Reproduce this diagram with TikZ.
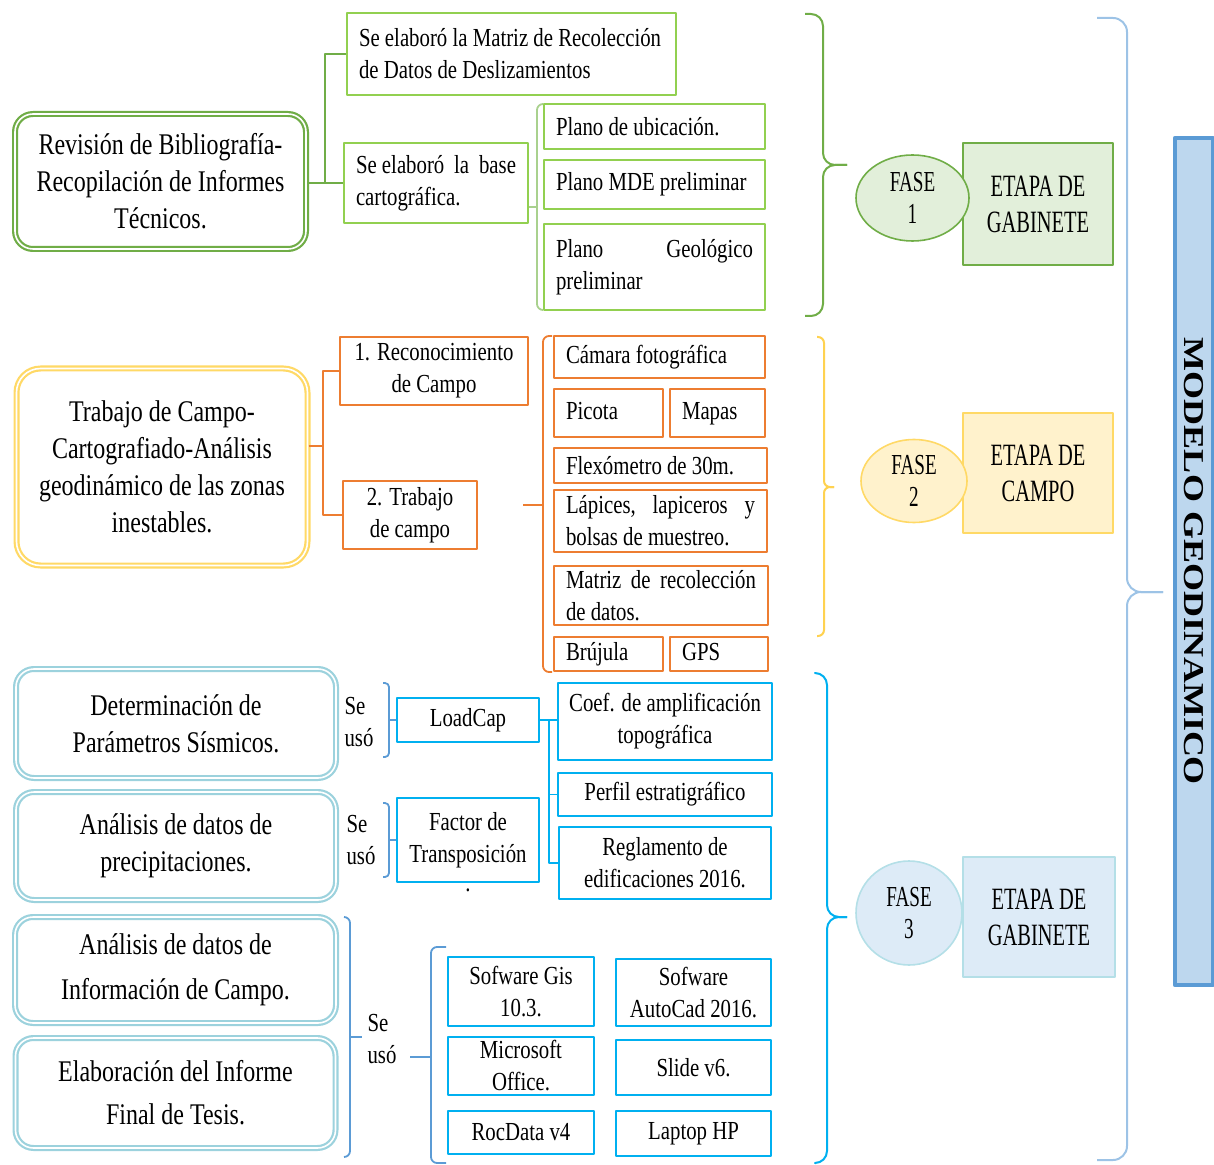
\documentclass[tikz,border=0pt]{standalone}
\usepackage{fontspec}
\setmainfont[FakeStretch=0.8]{Liberation Serif}
\newfontfamily\narrowserif[FakeStretch=0.66]{Liberation Serif}
\newfontfamily\plainserif{Liberation Serif}
\usepackage{graphicx}
\usepackage{tikz}
\usetikzlibrary{positioning,shapes.geometric,calc}
\hyphenpenalty=10000
\definecolor{grnD}{HTML}{70AD47}
\definecolor{grnL}{HTML}{92D050}
\definecolor{grnB}{HTML}{A9D18E}
\definecolor{grnF}{HTML}{E2EFDA}
\definecolor{ylwD}{HTML}{FFD966}
\definecolor{ylwB}{HTML}{FFD250}
\definecolor{ylwF}{HTML}{FFF2CC}
\definecolor{orgD}{HTML}{ED7D31}
\definecolor{tealD}{HTML}{9CD2DD}
\definecolor{cyanD}{HTML}{00B0F0}
\definecolor{bluB}{HTML}{5B9BD5}
\definecolor{bluL}{HTML}{9DC3E6}
\definecolor{bluF}{HTML}{BDD7EE}
\definecolor{phD}{HTML}{B4DFE7}
\definecolor{phF}{HTML}{DDEBF7}

\begin{document}
\begin{tikzpicture}[x=0.5pt,y=-0.5pt,line join=round,
   every node/.style={font=\fontsize{13}{16}\selectfont,inner sep=0pt},
   mainbox/.style={rounded corners=9pt,fill=white,line width=1.1pt,
     double=white,double distance=0.8pt,align=center,
     font=\fontsize{15}{18.5}\selectfont},
   gbox/.style={draw=grnL,line width=1pt,align=flush left,inner xsep=6pt},
   obox/.style={draw=orgD,line width=1.1pt,align=flush left,inner xsep=6pt},
   cbox/.style={draw=cyanD,line width=1.1pt,align=center},
   fase/.style={ellipse,line width=0.8pt,align=center,
     font=\narrowserif\fontsize{14.5}{16}\selectfont},
   etapa/.style={rectangle,line width=0.8pt,align=center,
     font=\narrowserif\fontsize{15.5}{18}\selectfont},
   tree/.style={line width=0.9pt},
   brk/.style={line width=0.9pt,rounded corners=3pt},
   brc/.style={line width=1pt,rounded corners=6pt}]
  \clip (0,0) rectangle (1214,1165);

  \node[mainbox,draw=grnD,minimum width=145.5pt,minimum height=67.5pt] (rev) at (160.5,181.5)
    {Revisión de Bibliografía-\\Recopilación de Informes\\Técnicos.};
  \node[gbox,text width=152.5pt,minimum height=41pt] (matdes) at (511.5,54)
    {Se elaboró la Matriz de Recolección\\de Datos de Deslizamientos};
  \node[gbox,text width=80pt,minimum height=40pt] (base) at (436,183)
    {Se elaboró\hfill la\hfill base\\cartográfica.};
  \node[gbox,text width=98.5pt,minimum height=22.5pt] (pubi) at (654.5,126.5) {Plano de ubicación.};
  \node[gbox,text width=98.5pt,minimum height=24.5pt] (pmde) at (654.5,184.5) {Plano MDE preliminar};
  \node[gbox,text width=98.5pt,minimum height=43pt] (pgeo) at (654.5,267) {Plano\hfill Geológico\\preliminar};
  \coordinate (g1) at (325,183);
  \draw[tree,draw=grnD] (rev.east |- g1) -- (base.west);
  \draw[tree,draw=grnD] (g1) |- (matdes.west);
  \coordinate (gb) at (537,207);
  \draw[tree,draw=grnB] (base.east |- gb) -- (gb);
  \draw[brk,draw=grnB] (543,104) -| (gb) |- (543,310);
  \coordinate (b1) at (847,165);
  \draw[brc,draw=grnD] (805,14) -| (823,165) -- (b1);
  \draw[brc,draw=grnD] (b1) -- (823,165) |- (805,316);
  \node[etapa,draw=grnD,fill=grnF,minimum width=75pt,minimum height=61pt] (et1) at (1038,204) {ETAPA DE\\GABINETE};
  \node[fase,draw=grnD,fill=grnF,minimum width=56.5pt,minimum height=43pt] (fa1) at (912.5,198) {FASE\\1};

  \node[mainbox,draw=ylwD,rounded corners=12pt,minimum width=145.5pt,minimum height=98.5pt] (trab) at (162,467)
    {Trabajo de Campo-\\Cartografiado-Análisis\\geodinámico de las zonas\\inestables.};
  \node[obox,align=center,inner xsep=0pt,minimum width=94pt,minimum height=34pt] (rec) at (434,371) {1. Reconocimiento\\de Campo};
  \node[obox,align=center,inner xsep=0pt,minimum width=67pt,minimum height=34pt] (tcam) at (410,515) {2. Trabajo\\de campo};
  \coordinate (o1) at (323,446);
  \draw[tree,draw=orgD] (trab.east |- o1) -- (o1) |- (rec.west);
  \draw[tree,draw=orgD] (o1) |- (tcam.west);
  \node[obox,text width=93.5pt,minimum height=21pt] (camara) at (659.5,357) {Cámara fotográfica};
  \node[obox,text width=42.5pt,minimum height=24pt] (picota) at (608.5,413) {\strut Picota};
  \node[obox,text width=35.5pt,minimum height=24pt] (mapas) at (717.5,413) {\strut Mapas};
  \node[obox,text width=94.5pt,minimum height=17.5pt] (flex) at (660.5,465.5) {Flexómetro de 30m.};
  \node[obox,text width=94.5pt,minimum height=31pt] (lapiz) at (660.5,521) {Lápices,\hfill lapiceros\hfill y\\bolsas de muestreo.};
  \node[obox,text width=95pt,minimum height=29.5pt] (matrec) at (661,595.5) {Matriz\hfill de\hfill recolección\\de datos.};
  \node[obox,text width=42.5pt,minimum height=17pt] (brujula) at (608.5,654) {\strut Brújula};
  \node[obox,text width=37pt,minimum height=17pt] (gps) at (719,654) {\strut GPS};
  \coordinate (ot) at (523,505);
  \coordinate (ob) at (543,505);
  \draw[tree,draw=orgD] (ot) -- (ob);
  \draw[brk,draw=orgD] (552,336) -| (ob) |- (552,672);
  \coordinate (b2) at (834,487);
  \draw[brc,rounded corners=3pt,draw=ylwB] (817,337) -| (824,487) -- (b2);
  \draw[brc,rounded corners=3pt,draw=ylwB] (b2) -- (824,487) |- (817,636);
  \node[etapa,draw=ylwD,fill=ylwF,minimum width=75pt,minimum height=60pt] (et2) at (1038,473) {ETAPA DE\\CAMPO};
  \node[fase,draw=ylwD,fill=ylwF,minimum width=53pt,minimum height=41.5pt] (fa2) at (914,481) {FASE\\2};

  \node[mainbox,draw=tealD,minimum width=160pt,minimum height=54.5pt] (sism) at (176,723.5)
    {Determinación de\\Parámetros Sísmicos.};
  \node[mainbox,draw=tealD,minimum width=160pt,minimum height=54pt] (prec) at (176,846)
    {Análisis de datos de\\precipitaciones.};
  \node[mainbox,draw=tealD,minimum width=160.5pt,minimum height=53pt] (info) at (175.5,970)
    {Análisis de datos de\\[4pt]Información de Campo.};
  \node[mainbox,draw=tealD,minimum width=160pt,minimum height=55pt] (tesis) at (175.5,1093)
    {Elaboración del Informe\\[3pt]Final de Tesis.};
  \node[align=left] (uso1) at (359,722) {Se\\usó};
  \node[align=left] (uso2) at (361,840) {Se\\usó};
  \node[align=left] (uso3) at (382,1039) {Se\\usó};
  \node[cbox,minimum width=71pt,minimum height=22pt] (lcap) at (468,720) {LoadCap};
  \node[cbox,minimum width=71pt,minimum height=42pt] (fac) at (468,840) {Factor de\\Transposición};
  \node (pto) at (468,890) {.};
  \coordinate (k1) at (389,720);
  \draw[brk,rounded corners=2pt,draw=bluB] (383,683) -| (k1) |- (383,757);
  \draw[tree,draw=bluB] (k1) -- (lcap.west);
  \coordinate (k2) at (389,840);
  \draw[brk,rounded corners=2pt,draw=bluB] (383,803) -| (k2) |- (383,877);
  \draw[tree,draw=bluB] (k2) -- (fac.west);
  \node[cbox,minimum width=107pt,minimum height=38.5pt] (coef) at (665,721.5) {Coef. de amplificación\\topográfica};
  \node[cbox,minimum width=107pt,minimum height=21.5pt] (perf) at (665,794.5) {Perfil estratigráfico};
  \node[cbox,minimum width=106pt,minimum height=36pt] (regl) at (665,863) {Reglamento de\\edificaciones 2016.};
  \coordinate (c1) at (549,720);
  \draw[tree,draw=cyanD] (lcap.east) -- (c1) |- (regl.west);
  \draw[tree,draw=cyanD] (c1) -- (coef.west |- c1);
  \draw[tree,draw=cyanD] (perf.west -| c1) -- (perf.west);
  \coordinate (k3) at (350,1037);
  \coordinate (k3e) at (362,1037);
  \draw[brk,draw=bluB] (344,917) -| (k3) |- (344,1157);
  \draw[tree,draw=bluB] (k3) -- (k3e);
  \coordinate (k4e) at (410,1057);
  \coordinate (k4) at (431,1057);
  \draw[tree,draw=bluB] (k4e) -- (k4);
  \draw[brk,draw=bluB] (446,947) -| (k4) |- (446,1163);
  \node[cbox,minimum width=73pt,minimum height=34.5pt] (gis) at (521,991.5) {Sofware Gis\\10.3.};
  \node[cbox,minimum width=77.5pt,minimum height=33.5pt] (acad) at (693.5,992.5) {Sofware\\AutoCad 2016.};
  \node[cbox,minimum width=73pt,minimum height=29pt] (msof) at (521,1066) {Microsoft\\Office.};
  \node[cbox,minimum width=77.5pt,minimum height=27.5pt] (slide) at (693.5,1067.5) {Slide v6.};
  \node[cbox,minimum width=73pt,minimum height=21.5pt] (roc) at (521,1132.5) {RocData v4};
  \node[cbox,minimum width=77.5pt,minimum height=22.5pt] (lap) at (693.5,1133.5) {Laptop HP};
  \coordinate (b3) at (847,917);
  \draw[brc,draw=cyanD] (816,673) -| (827,917) -- (b3);
  \draw[brc,draw=cyanD] (b3) -- (827,917) |- (816,1163);
  \node[etapa,draw=phD,fill=phF,minimum width=76pt,minimum height=60pt] (et3) at (1039,917) {ETAPA DE\\GABINETE};
  \node[fase,draw=phD,fill=phF,minimum width=53pt,minimum height=52pt] (fa3) at (909,913) {FASE\\3};

  \coordinate (b4) at (1163,592);
  \draw[brc,rounded corners=7pt,draw=bluL] (1097,18) -| (1127,592) -- (b4);
  \draw[brc,rounded corners=7pt,draw=bluL] (b4) -- (1127,592) |- (1097,1160);
  \node[draw=bluB,line width=2.4pt,fill=bluF,rotate=-90,minimum width=423.5pt,minimum height=19pt] (model) at (1194,561.5)
    {\plainserif\fontsize{18}{20}\selectfont\bfseries\scalebox{1}[0.8]{MODELO GEODINAMICO}};
\end{tikzpicture}
\end{document}
